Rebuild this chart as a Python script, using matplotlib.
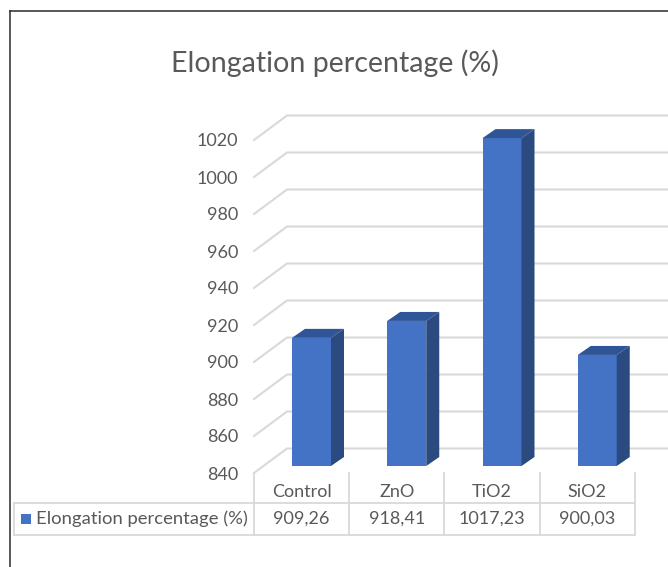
import matplotlib
matplotlib.use('Agg')
import matplotlib.pyplot as plt
from matplotlib.lines import Line2D
from matplotlib.patches import Polygon, Rectangle

categories = ['Control', 'ZnO', 'TiO2', 'SiO2']
values = [909.26, 918.41, 1017.23, 900.03]
series_name = 'Elongation percentage (%)'
title = 'Elongation percentage (%)'
ticks = list(range(840, 1040, 20))

W, H = 668, 567
TEXT = '#595959'
GRID = '#D9D9D9'
FRONT, SIDE, TOP = '#4472C4', '#2A4A80', '#2F5597'

plt.rcParams['font.family'] = ['Lato', 'DejaVu Sans']
fig = plt.figure(figsize=(W / 100, H / 100), dpi=100, facecolor='white')


def px_axes(x0, y0, x1, y1):
    # pixel box with y measured from the top of the image
    return fig.add_axes([x0 / W, 1 - y1 / H, (x1 - x0) / W, (y1 - y0) / H])


# main axes is the front plane of the fake 3D box
ax = px_axes(254, 140, 635, 473)
ax.set_xlim(0, 4)
ax.set_ylim(840, 1020)
ax.patch.set_alpha(0)
for s in ax.spines.values():
    s.set_visible(False)
ax.set_xticks([])
ax.set_yticks(ticks)
ax.tick_params(axis='y', length=0, pad=11.5, labelsize=13, labelcolor=TEXT)

cat_w = 381 / 4  # px per category
unit = 333 / 180  # px per value unit
back_x, back_y = 33 / cat_w, 24.5 / unit

for t in ticks:
    ax.plot([0, back_x, 4.4], [t, t + back_y, t + back_y], color=GRID, lw=1.5,
            clip_on=False, zorder=1, solid_joinstyle='miter')

# bars: front face sits 7px above the front plane, depth 13px x 9px
base = 7 / unit
dx, dy = 13 / cat_w, 9 / unit
bar_w = 39 / cat_w
for i, v in enumerate(values):
    left = i + 38 / cat_w
    ax.add_patch(Rectangle((left, 840 + base), bar_w, v - 840, fc=FRONT, ec='none', clip_on=False, zorder=3))
    right = left + bar_w
    y0, y1 = 840 + base, v + base
    ax.add_patch(Polygon([(right, y0), (right + dx, y0 + dy), (right + dx, y1 + dy), (right, y1)],
                         fc=SIDE, ec='none', clip_on=False, zorder=3))
    ax.add_patch(Polygon([(left, y1), (left + dx, y1 + dy), (right + dx, y1 + dy), (right, y1)],
                         fc=TOP, ec='none', clip_on=False, zorder=3))

# data table under the plot, x in category units
tb = px_axes(14, 473, 635, 535)
tb.set_xlim(-240 / cat_w, 4)
tb.set_ylim(0, 62)
tb.axis('off')
row_y = 32
for i in range(5):
    tb.plot([i, i], [0, 62], color=GRID, lw=1.3, clip_on=False)
tb.plot([-240 / cat_w, 4], [row_y, row_y], color=GRID, lw=1.3, clip_on=False)
tb.plot([-240 / cat_w, 4], [0, 0], color=GRID, lw=1.3, clip_on=False)
tb.plot([-240 / cat_w] * 2, [0, row_y], color=GRID, lw=1.3, clip_on=False)
for i, (c, v) in enumerate(zip(categories, values)):
    tb.text(i + 0.5, 43, c, ha='center', va='center', color=TEXT, fontsize=13)
    tb.text(i + 0.5, 16, f'{v:.2f}'.replace('.', ','), ha='center', va='center', color=TEXT, fontsize=13)
tb.add_patch(Rectangle((-233 / cat_w, 11), 10 / cat_w, 10, fc=FRONT, ec='none'))
tb.text(-218 / cat_w, 16, series_name, ha='left', va='center', color=TEXT, fontsize=13.3)

fig.text(335 / W, 1 - 63.5 / H, title, ha='center', va='center', color=TEXT, fontsize=20.6)

# screenshot border, top and left only
fig.add_artist(Line2D([10 / W, 1], [1 - 11 / H] * 2, color='#2A2A2A', lw=1.1))
fig.add_artist(Line2D([10 / W] * 2, [1 - 11 / H, 0], color='#2A2A2A', lw=1.1))

fig.savefig('out.png', dpi=100)
